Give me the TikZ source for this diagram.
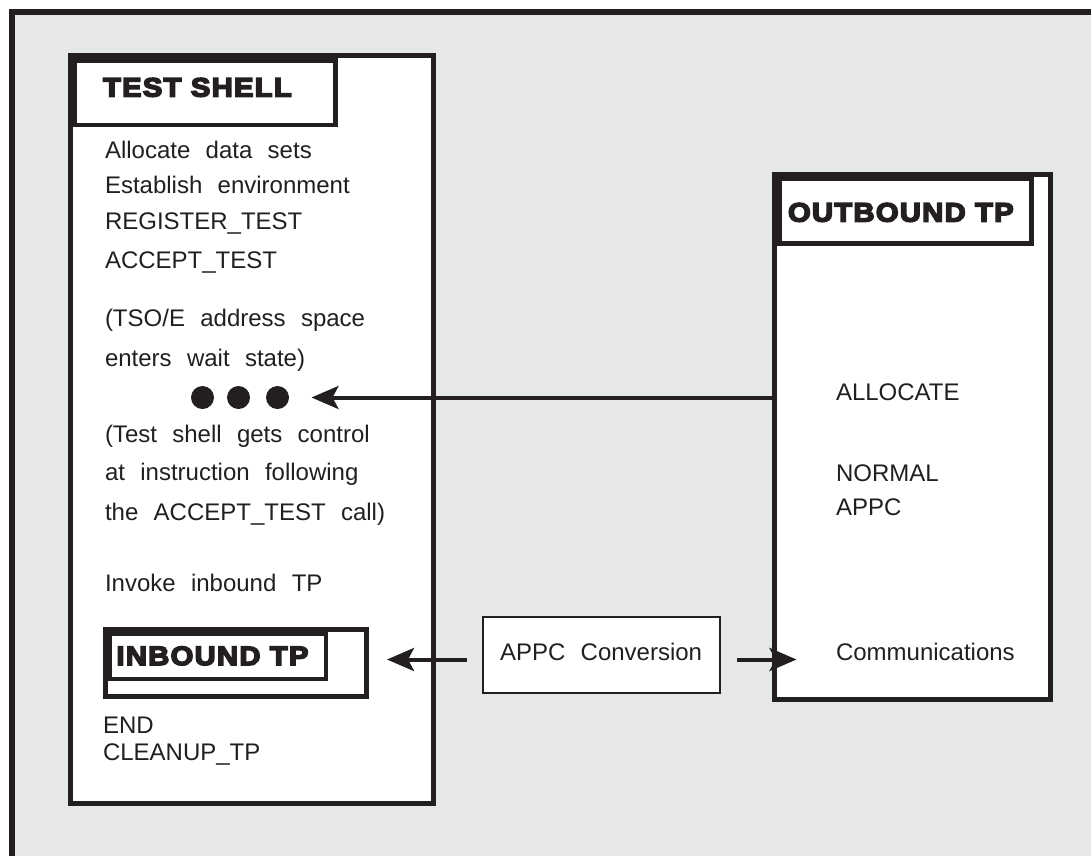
\documentclass[tikz,border=0pt]{standalone}
\usepackage{fontspec}
\setmainfont{Liberation Sans}[WordSpace=2.3]
\newfontfamily\heavyfont{Liberation Sans Bold}[FakeStretch=1.1, LetterSpace=5]
\newcommand\heavytext[1]{\special{pdf:literal direct 2 Tr 1.6 w 0 j}#1\special{pdf:literal direct 0 Tr}}
\usetikzlibrary{arrows.meta}
\definecolor{inkc}{HTML}{231F20}
\definecolor{bggray}{HTML}{E6E7E8}
\begin{document}
\begin{tikzpicture}[x=1pt,y=-1pt,
  bigbox/.style={draw=inkc, line width=5pt, fill=white, inner sep=0pt, outer sep=0pt, anchor=north west},
  titlebox/.style={draw=inkc, line width=4.5pt, fill=white, inner sep=0pt, outer sep=0pt, anchor=north west},
  thinbox/.style={draw=inkc, line width=1.2pt, fill=white, inner sep=0pt, outer sep=0pt, anchor=north west},
  txt/.style={anchor=base west, inner sep=0pt, outer sep=0pt, text=inkc, font=\fontsize{24}{28}\selectfont},
  ttl/.style={anchor=base west, inner sep=0pt, outer sep=0pt, text=inkc, font=\heavyfont\fontsize{26.5}{30}\selectfont},
  arr/.style={draw=inkc, line width=4pt, -{Stealth[length=27pt,width=23pt,inset=6pt]}},
  dot/.style={circle, fill=inkc, minimum size=23pt, inner sep=0pt, outer sep=0pt}
]
\clip (0,0) rectangle (1091,855);
\fill[white] (0,0) rectangle (1091,855);
\draw[draw=inkc, line width=6pt, fill=bggray] (11.5,11.5) rectangle (1130,890);

% TEST SHELL
\node[bigbox, minimum width=363pt, minimum height=748pt] (shell) at (70.5,55) {};
\node[titlebox, minimum width=260.5pt, minimum height=64.5pt] (shelltitle) at (75,60.5) {};
\node[ttl] (shelltxt) at (103,96.5) {\heavytext{TEST SHELL}};

\node[txt] (l1) at (105,158) {Allocate data sets};
\node[txt] (l2) at (105,193) {Establish environment};
\node[txt] (l3) at (105,229) {REGISTER\_TEST};
\node[txt] (l4) at (105,268.5) {ACCEPT\_TEST};
\node[txt] (l5) at (105,326.5) {(TSO/E address space};
\node[txt] (l6) at (105,366) {enters wait state)};
\node[dot] (d1) at (202.5,397.5) {};
\node[dot] (d2) at (238.5,397.5) {};
\node[dot] (d3) at (277.5,397.5) {};
\node[txt] (l7) at (105,442) {(Test shell gets control};
\node[txt] (l8) at (105,480.5) {at instruction following};
\node[txt] (l9) at (105,520) {the ACCEPT\_TEST call)};
\node[txt] (l10) at (105,591.5) {Invoke inbound TP};

% INBOUND TP
\node[bigbox, minimum width=260.5pt, minimum height=66.5pt] (inbound) at (105.5,629.5) {};
\node[titlebox, line width=4pt, minimum width=215.5pt, minimum height=44.5pt] (inboundtitle) at (110,634) {};
\node[ttl] (inboundtxt) at (116.5,665) {\heavytext{INBOUND TP}};
\node[txt] (l11) at (103,733) {END};
\node[txt] (l12) at (103,760) {CLEANUP\_TP};

% OUTBOUND TP
\node[bigbox, minimum width=276pt, minimum height=525pt] (outbound) at (774.5,174.5) {};
\node[titlebox, minimum width=252pt, minimum height=65pt] (outboundtitle) at (779.5,178.5) {};
\node[ttl] (outboundtxt) at (788,221.5) {\heavytext{OUTBOUND TP}};
\node[txt] (r1) at (836,400) {ALLOCATE};
\node[txt] (r2) at (836,481) {NORMAL};
\node[txt] (r3) at (836,515) {APPC};
\node[txt] (r4) at (836,660) {Communications};

% APPC Conversion
\node[thinbox, minimum width=237pt, minimum height=76pt] (appc) at (483,617) {};
\node[txt] (appctxt) at (500,660) {APPC Conversion};

% connectors
\draw[arr, shorten >=22.5pt] (outbound.west |- d3.center) -- (d3.east);
\draw[arr, shorten <=16pt, shorten >=21pt] ([yshift=-4.5pt]appc.west) -- ([yshift=-4.5pt]appc.west -| inbound.east);
\draw[arr, shorten <=17pt, shorten >=-22pt] ([yshift=-4.5pt]appc.east) -- ([yshift=-4.5pt]appc.east -| outbound.west);
\end{tikzpicture}
\end{document}
